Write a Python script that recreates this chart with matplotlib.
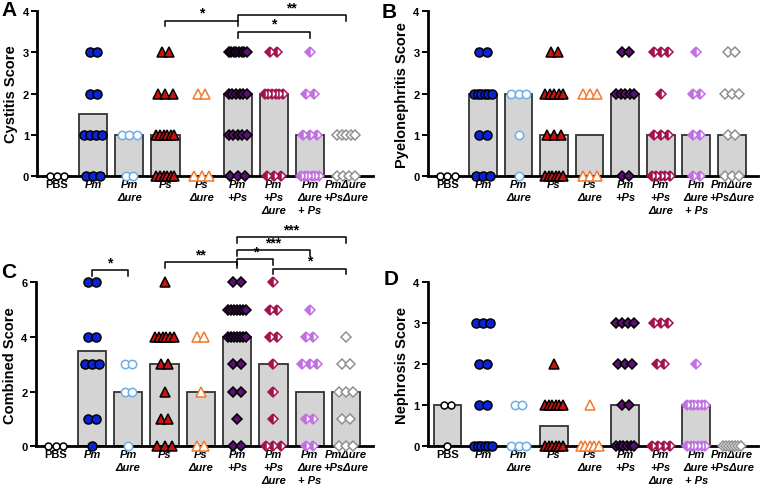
import numpy as np
import matplotlib as mpl

mpl.use("Agg")
import matplotlib.pyplot as plt

plt.rcParams["font.family"] = ["Liberation Sans", "DejaVu Sans"]
plt.rcParams["font.weight"] = "bold"

GROUPS = ["PBS", "Pm", "Pm\nΔure", "Ps", "Ps\nΔure", "Pm\n+Ps",
          "Pm\n+Ps\nΔure", "Pm\nΔure\n+ Ps", "PmΔure\n+PsΔure"]

# individual scores per mouse, one list per group
cystitis_scores = [
    [0, 0, 0],
    [3, 3, 2, 2, 1, 1, 1, 1, 0, 0, 0],
    [1, 1, 1, 0, 0],
    [3, 3, 2, 2, 2, 1, 1, 1, 1, 1, 1, 0, 0, 0, 0, 0, 0],
    [2, 2, 0, 0, 0],
    [3] * 8 + [2] * 6 + [1] * 5 + [0] * 3,
    [3, 3] + [2] * 6 + [0, 0, 0],
    [3, 2, 2, 1, 1, 1] + [0] * 6,
    [1] * 5 + [0] * 4,
]
cystitis_medians = [0, 1.5, 1, 1, 0, 2, 2, 1, 0]

pyelo_scores = [
    [0, 0, 0],
    [3, 3] + [2] * 6 + [1, 1, 0, 0, 0],
    [2, 2, 2, 1, 0],
    [3, 3] + [2] * 5 + [1] * 3 + [0] * 6,
    [2, 2, 2, 0, 0, 0],
    [3, 3] + [2] * 5 + [0, 0],
    [3, 3, 3, 2, 1, 1, 1] + [0] * 5,
    [3, 2, 2, 1, 1, 0, 0],
    [3, 3, 2, 2, 2, 1, 1, 0, 0, 0],
]
pyelo_medians = [0, 2, 2, 1, 1, 2, 1, 1, 1]

combined_scores = [
    [0, 0, 0],
    [6, 6, 4, 4, 3, 3, 3, 1, 1, 0],
    [3, 3, 2, 2, 0],
    [6] + [4] * 6 + [3, 3, 2, 1, 1, 0, 0, 0],
    [4, 4, 2, 0, 0],
    [6, 6] + [5] * 7 + [4] * 7 + [3, 3, 2, 2, 1, 0, 0],
    [6, 5, 5, 4, 4, 3, 2, 1, 0, 0, 0],
    [5, 4, 4, 3, 3, 3, 1, 1, 0, 0],
    [4, 3, 3, 2, 2, 2, 1, 1, 0, 0, 0],
]
combined_medians = [0, 3.5, 2, 3, 2, 4, 3, 2, 2]

nephrosis_scores = [
    [1, 1, 0],
    [3, 3, 3, 2, 2, 1, 1] + [0] * 6,
    [1, 1, 0, 0, 0],
    [2] + [1] * 6 + [0] * 6,
    [1] + [0] * 5,
    [3] * 4 + [2] * 3 + [1, 1] + [0] * 6,
    [3, 3, 3, 2, 2, 0, 0, 0, 0],
    [2] + [1] * 6 + [0] * 6,
    [0] * 7,
]
nephrosis_medians = [1, 0, 0, 0.5, 0, 1, 0, 1, 0]

# significance brackets: (group a, group b, height, label)
cystitis_sig = [(3, 5, 3.77, "*"), (5, 8, 3.9, "**"), (5, 7, 3.5, "*")]
combined_sig = [(1, 2, 6.44, "*"), (3, 5, 6.74, "**"), (5, 6, 6.84, "*"),
                (6, 8, 6.5, "*"), (5, 7, 7.17, "***"), (5, 8, 7.64, "***")]

# marker look for each group: marker, face, edge, fill style, size
STYLES = [
    ("o", "white", "black", "full", 5.0),
    ("o", "#0a22d8", "black", "full", 6.5),
    ("o", "white", "#6aaee8", "full", 6.0),
    ("^", "#cc1111", "black", "full", 6.5),
    ("^", "white", "#f07a30", "full", 6.5),
    ("D", "#5a0f72", "black", "full", 5.0),
    ("D", "#a3124e", "#a3124e", "left", 5.0),
    ("D", "#c070e0", "#c070e0", "left", 5.0),
    ("D", "white", "#909090", "full", 5.0),
]


def draw_panel(ax, scores, medians, ymax, yticks, ylabel, sig=()):
    x = np.arange(len(GROUPS))
    ax.bar(x, medians, width=0.78, color="#d4d4d4", edgecolor="#333333",
           linewidth=1.3, zorder=1)

    for i, vals in enumerate(scores):
        marker, face, edge, fill, ms = STYLES[i]
        vals = np.array(vals)
        for v in np.unique(vals):
            n = int((vals == v).sum())
            step = min(0.2, 0.5 / (n - 1)) if n > 1 else 0
            xs = i + (np.arange(n) - (n - 1) / 2) * step
            ax.plot(xs, [v] * n, linestyle="none", marker=marker, ms=ms,
                    mfc=face, mec=edge, mew=1.1, fillstyle=fill,
                    markerfacecoloralt="white", clip_on=False, zorder=3)

    tick = ymax * 0.035
    for a, b, h, label in sig:
        ax.plot([a, a, b, b], [h - tick, h, h, h - tick], color="black",
                lw=1.1, clip_on=False, zorder=4)
        ax.text((a + b) / 2, h + ymax * 0.005, label, ha="center", va="bottom",
                fontsize=10, fontweight="bold")

    ax.set_xlim(-0.55, 8.75)
    ax.set_ylim(0, ymax)
    ax.set_yticks(yticks)
    ax.set_xticks(x)
    ax.set_xticklabels(GROUPS, fontsize=8, linespacing=1.36)
    for j, t in enumerate(ax.get_xticklabels()):
        if j > 0:
            t.set_fontstyle("italic")
    ax.tick_params(axis="x", length=0, pad=2)
    ax.tick_params(axis="y", labelsize=8, width=1.4, length=4, pad=2)
    ax.spines["top"].set_visible(False)
    ax.spines["right"].set_visible(False)
    ax.spines["left"].set_linewidth(2)
    ax.spines["bottom"].set_linewidth(2)
    ax.set_ylabel(ylabel, fontsize=10.5, fontweight="bold", labelpad=3)


fig = plt.figure(figsize=(7.6, 4.85), dpi=100)
ax_a = fig.add_axes([0.049, 0.635, 0.442, 0.34])
ax_b = fig.add_axes([0.563, 0.635, 0.435, 0.34])
ax_c = fig.add_axes([0.047, 0.078, 0.444, 0.338])
ax_d = fig.add_axes([0.563, 0.078, 0.435, 0.338])

draw_panel(ax_a, cystitis_scores, cystitis_medians, 4, [0, 1, 2, 3, 4],
           "Cystitis Score", cystitis_sig)
draw_panel(ax_b, pyelo_scores, pyelo_medians, 4, [0, 1, 2, 3, 4],
           "Pyelonephritis Score")
draw_panel(ax_c, combined_scores, combined_medians, 6, [0, 2, 4, 6],
           "Combined Score", combined_sig)
draw_panel(ax_d, nephrosis_scores, nephrosis_medians, 4, [0, 1, 2, 3, 4],
           "Nephrosis Score")

# panel letters, placed in figure pixels
for letter, px, py in [("A", 1, 1), ("B", 382, 3), ("C", 1, 263), ("D", 384, 270)]:
    fig.text(px / 760, 1 - py / 485, letter, fontsize=15, fontweight="bold",
             ha="left", va="top")

fig.savefig("out.png", dpi=100)
